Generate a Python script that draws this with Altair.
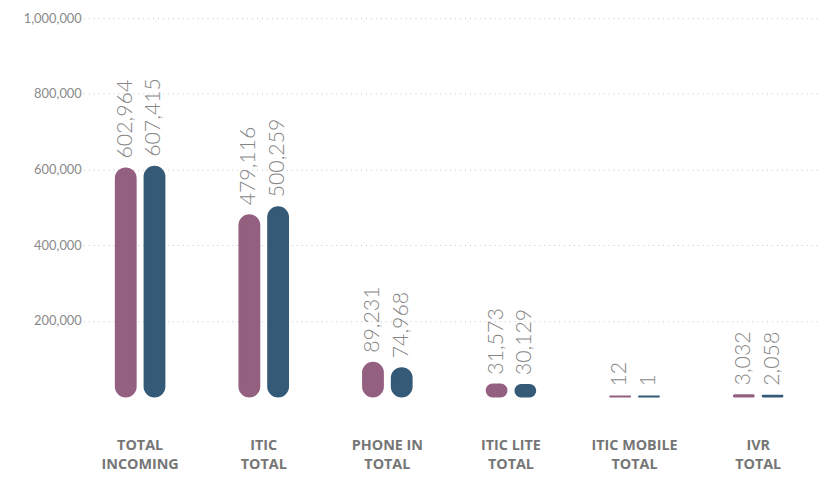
import altair as alt
import pandas as pd

categories = ["TOTAL|INCOMING", "ITIC|TOTAL", "PHONE IN|TOTAL", "ITIC LITE|TOTAL",
              "ITIC MOBILE|TOTAL", "IVR|TOTAL"]
series = ["Period 1", "Period 2"]
values_1 = [602964, 479116, 89231, 31573, 12, 3032]
values_2 = [607415, 500259, 74968, 30129, 1, 2058]
colors = ["#946080", "#355a77"]
y_ticks = [200000, 400000, 600000, 800000, 1000000]

rows = []
for c, a, b in zip(categories, values_1, values_2):
    rows.append({"category": c, "series": series[0], "value": a})
    rows.append({"category": c, "series": series[1], "value": b})
df = pd.DataFrame(rows)

x = alt.X("category:N", sort=categories,
          scale=alt.Scale(paddingInner=0.535, paddingOuter=0.2675, range=[-7, 742]),
          axis=alt.Axis(title=None, labelExpr="split(datum.label, '|')", domain=False,
                        ticks=False, labelAngle=0, labelFont="Open Sans", labelFontWeight="bold",
                        labelFontSize=14.5, labelColor="#767676", labelLineHeight=19,
                        labelPadding=43))
xo = alt.XOffset("series:N", sort=series,
                 scale=alt.Scale(paddingInner=0.31, paddingOuter=0.155))
y = alt.Y("value:Q", scale=alt.Scale(domain=[0, 1000000]),
          axis=alt.Axis(title=None, values=y_ticks, format=",.0f", grid=True, gridDash=[1, 4],
                        gridColor="#c4c4c4", domain=False, ticks=False, labelFont="Lato",
                        labelFontSize=13, labelColor="#8a8a8a", labelPadding=4))
color = alt.Color("series:N", sort=series, scale=alt.Scale(domain=series, range=colors),
                  legend=None)
stroke = alt.Stroke("series:N", sort=series, scale=alt.Scale(domain=series, range=colors),
                    legend=None)

bars = alt.Chart(df).mark_bar(cornerRadius=10, strokeWidth=2).encode(
    x=x, xOffset=xo, y=y, color=color, stroke=stroke)

labels = alt.Chart(df).mark_text(angle=270, align="left", baseline="middle", dx=10,
                                 fontSize=21.5, font="Lato", fontWeight=300,
                                 color="#858585").encode(
    x=x, xOffset=xo, y=y, text=alt.Text("value:Q", format=",.0f"))

chart = (bars + labels).properties(
    width=739, height=382,
    autosize=alt.AutoSizeParams(type="none"),
    padding={"left": 78, "top": 8, "right": 3, "bottom": 79},
).configure_view(stroke=None)

chart.save("out.html", embed_options={"renderer": "svg", "actions": False})
